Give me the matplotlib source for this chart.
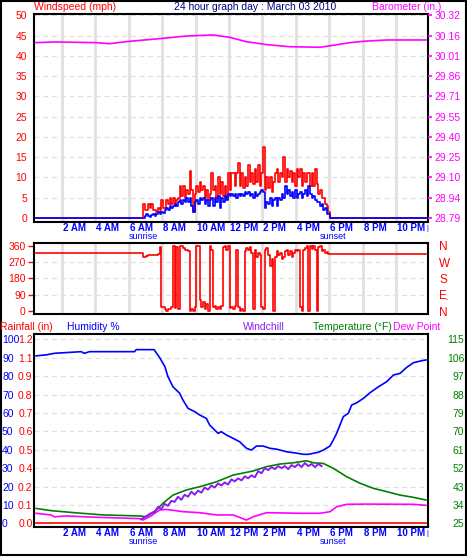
import matplotlib
matplotlib.use("Agg")
import matplotlib.pyplot as plt
import matplotlib.transforms as mtrans
from matplotlib.patches import Rectangle
import numpy as np

plt.rcParams['font.family'] = ['Liberation Sans', 'DejaVu Sans']

W, H = 467, 559

# ---------------- data ----------------
title = "24 hour graph day : March 03 2010"
hour_labels = ["2 AM", "4 AM", "6 AM", "8 AM", "10 AM", "12 PM",
               "2 PM", "4 PM", "6 PM", "8 PM", "10 PM"]
sunrise_h, sunset_h = 6.4, 17.8
day_end = 23.35

# barometer (in.)
baro_hours = [0, 1.1, 3.6, 4.4, 5.6, 7.4, 9.0, 10.6, 11.6, 12.6, 13.8,
              15.2, 17.0, 17.8, 18.8, 19.6, 21.0, 23.35]
baro_in = [30.115, 30.12, 30.115, 30.107, 30.125, 30.145, 30.165, 30.173,
           30.155, 30.122, 30.10, 30.084, 30.08, 30.095, 30.115, 30.125,
           30.135, 30.135]

# wind (mph), samples between wind_start and wind_end
wind_start, wind_end = 6.4, 17.6
wind_gust = [3.5, 2, 2, 3.5, 2.5, 3.5, 2, 2, 1.5, 2.5, 2, 4.5, 2.5, 2.5, 4.5,
             3.5, 5, 3.5, 5, 3, 4.5, 5, 8, 5.5, 8, 5, 7, 6, 11.5, 7, 1.5, 6,
             8, 6.5, 9, 7, 8, 5, 7, 4.5, 6, 11, 7, 8, 5, 10, 6, 9, 5.5, 8, 5,
             11, 7, 11, 11, 8, 11, 13.5, 8, 11, 7.5, 10, 8, 13, 9, 11, 8.5, 12,
             9, 13, 8, 11, 17.5, 7, 10, 7.5, 10, 6.5, 9, 11, 12, 9, 11, 10, 15,
             9, 12, 10, 11.5, 9, 11, 8, 12, 10, 12, 8, 11, 9, 11, 11, 8, 11, 8,
             12, 8.5, 6, 7, 5, 5, 3.5, 3, 1.5, 0]
wind_avg = [0, 0.5, 1, 0.5, 0.3, 0.8, 1, 0.5, 1, 1.5, 1, 1.5, 1.2, 2, 2.5, 2,
            3, 2.5, 3, 3.5, 3, 4, 4.5, 3.5, 4.5, 4, 5, 4, 5, 3, 1.5, 4, 4.5,
            3.5, 5, 4.5, 5, 3.5, 4.5, 3, 4.5, 5, 3, 5, 4, 5.5, 2.5, 5, 4, 5.5,
            4.5, 6, 5.5, 6, 5.5, 6, 5, 6, 5.5, 6, 5.5, 6.5, 6, 6.5, 5.5, 6, 5,
            6.5, 5.5, 6, 6.5, 7, 6.5, 2.5, 4, 3.5, 5, 3, 4.5, 5, 3, 5, 4.5, 6,
            5, 8, 6, 7, 5.5, 6.5, 5, 7, 5, 6, 6.5, 5, 6, 7, 5.5, 8, 6, 5, 5.5,
            4.5, 4, 4, 3, 3.5, 2, 2.5, 1, 1, 0]

# wind direction (deg)
dir_calm_before, dir_calm_after = 318, 315
wind_dir = [300, 300, 305, 310, 310, 310, 312, 312, 312, 315, 355, 20, 20, 10,
            0, 10, 10, 20, 360, 15, 355, 10, 360, 360, 350, 340, 340, 330, 0,
            10, 0, 20, 360, 360, 60, 20, 50, 10, 40, 0, 360, 340, 20, 30, 10,
            20, 10, 30, 355, 360, 340, 360, 15, 20, 10, 30, 340, 20, 0, 10, 0,
            330, 350, 340, 355, 320, 10, 340, 300, 320, 310, 20, 10, 340, 350,
            310, 250, 290, 0, 300, 330, 310, 320, 290, 300, 330, 340, 310, 330,
            300, 320, 340, 330, 340, 20, 0, 340, 350, 360, 0, 360, 345, 360,
            340, 0, 355, 360, 330, 340, 320, 325, 315, 315]

# humidity (%)
hum_hours = [0, 0.64, 1.1, 2.7, 2.9, 3.2, 5.9, 6.0, 7.07, 7.43, 7.72, 7.9,
             8.2, 8.6, 8.8, 9.1, 9.5, 9.8, 10.2, 10.4, 10.7, 10.9, 11.1, 11.4,
             11.8, 12.2, 12.4, 12.6, 12.9, 13.2, 13.6, 14.0, 14.4, 15.0, 15.7,
             16.0, 16.3, 16.9, 17.2, 17.6, 17.8, 18.0, 18.2, 18.4, 18.7, 18.9,
             19.2, 19.6, 20.0, 20.5, 21.0, 21.4, 21.8, 22.2, 22.6, 23.1, 23.35]
hum_pct = [91, 91.6, 92.4, 93.3, 92.4, 93.3, 93.3, 94.4, 94.4, 89.7, 85.1,
           79.7, 74.2, 70.7, 67, 62.5, 60.7, 58.9, 57, 53.4, 50.7, 48.9, 49.8,
           48, 46.2, 44.3, 42.5, 40.8, 39.8, 42, 42, 40.8, 40.3, 38.9, 38, 37.5,
           37.5, 38.6, 39.8, 42, 45.3, 48.9, 53.4, 58, 59.8, 64.3, 65.5, 67.9,
           71, 74.2, 77, 80.6, 81.5, 84.8, 87.3, 88.4, 88.8]

# temperature (F)
temp_hours = [0, 0.9, 2.3, 4.0, 6.2, 6.6, 7.2, 7.6, 8.2, 9.0, 9.8, 10.8,
              11.8, 13.0, 13.8, 14.6, 15.4, 16.2, 16.6, 17.2, 17.8, 18.6, 19.4,
              20.2, 21.0, 21.8, 22.6, 23.35]
temp_f = [32.3, 31.2, 30.2, 29.1, 28.6, 28.2, 31.5, 34.8, 38.8, 41.3, 42.9,
          45.3, 48.6, 50.6, 52.7, 54, 54.6, 55.6, 54.6, 54.3, 51.9, 47.8, 44.6,
          42.1, 40.5, 38.8, 37.7, 36.4]

# dew point (F)
dew_hours = [0, 0.9, 1.1, 1.8, 3.8, 6.2, 6.4, 6.8, 7.4, 7.8, 8.8, 9.8, 10.8,
             11.8, 12.6, 13.0, 13.8, 15.8, 17.0, 17.6, 18.0, 18.6, 19.8, 22.6,
             23.35]
dew_f = [29.9, 29.1, 28.2, 28.6, 27.9, 27.3, 26.6, 28.2, 31.5, 31.8, 30.7,
         30.2, 29.1, 29.1, 26.6, 28.2, 30.2, 29.9, 29.9, 30.7, 33.1, 34.3,
         34.4, 34.3, 33.8]

# windchill (F)
chill_hours = [6.3, 6.5, 6.7, 6.9, 7.1, 7.3, 7.5, 7.7, 7.9, 8.1, 8.3, 8.5, 8.7,
               8.9, 9.1, 9.3, 9.5, 9.7, 9.9, 10.1, 10.3, 10.5, 10.7, 10.9,
               11.1, 11.3, 11.5, 11.7, 11.9, 12.1, 12.3, 12.5, 12.7, 12.9,
               13.1, 13.3, 13.5, 13.7, 13.9, 14.1, 14.3, 14.5, 14.7, 14.9,
               15.1, 15.3, 15.5, 15.7, 15.9, 16.1, 16.3, 16.5, 16.7, 16.9, 17.1]
chill_f = [27, 28, 29, 30, 30.5, 33, 32, 34.5, 33.5, 36, 35.5, 38, 36.5, 39,
           38, 40.5, 39, 41, 40, 42.5, 41.5, 43.5, 42.5, 44.5, 43.5, 45, 44,
           46.5, 45.5, 47, 46, 48, 47, 48.5, 47.5, 50.5, 49.5, 52, 51, 52.5,
           51.5, 53, 52, 53, 51.5, 53.5, 52.5, 54, 52.5, 54.5, 53, 54, 52.5,
           54, 53]

# rainfall (in)
rain_hours = [0, 23.35]
rain_in = [0.0, 0.0]

wind_ticks = [0, 5, 10, 15, 20, 25, 30, 35, 40, 45, 50]
baro_ticks = ["28.79", "28.94", "29.10", "29.25", "29.40", "29.55", "29.71",
              "29.86", "30.01", "30.16", "30.32"]
dir_ticks = [0, 90, 180, 270, 360]
dir_letters = ["N", "E", "S", "W", "N"]
hum_ticks = [0, 10, 20, 30, 40, 50, 60, 70, 80, 90, 100]
rain_labels = ["0.0", "0.1", "0.2", "0.4", "0.5", "0.6", "0.7", "0.8", "0.9",
               "1.1", "1.2"]
temp_ticks = [25, 34, 43, 52, 61, 70, 79, 88, 97, 106, 115]

# ---------------- styling ----------------
RED, BLUE, MAG, GREEN, PURP, NAVY = "#ff0000", "#0000ff", "#ff00ff", "#008000", "#8a1cf0", "#000080"
GRID = "#e0e0e0"
FS = 7.5
PXH = 16.7  # pixels per hour
grid_hours = [1.56 + 2 * k for k in range(11)]
x_lim = (-2 / PXH, day_end + 2 / PXH)


def box(l, t, r, b):
    return [l / W, 1 - b / H, (r - l) / W, (b - t) / H]


def fy(py):
    return 1 - py / H


def frame(ax):
    for s in ax.spines.values():
        s.set_color("black")
        s.set_linewidth(1.5)
    ax.set_xlim(*x_lim)
    ax.set_xticks([])
    ax.set_facecolor("white")


def vgrid(ax):
    for g in grid_hours:
        ax.axvline(g, color=GRID, lw=2.0, zorder=0)


def hgrid(ax, vals):
    for v in vals:
        ax.axhline(v, color=GRID, lw=0.9, ls=(0, (4, 3)), zorder=0)


def hour_axis(ax, label_py, sun_py):
    tr = mtrans.blended_transform_factory(ax.transData, fig.transFigure)
    for g, lab in zip(grid_hours, hour_labels):
        fig.text(g + 0.05, fy(label_py), lab, transform=tr, ha="left", va="center",
                 color=BLUE, fontsize=7, fontweight="bold")
    fig.text(day_end + 0.05, fy(label_py), "|", transform=tr, ha="center",
             va="center", color=BLUE, fontsize=5)
    fig.text(sunrise_h, fy(sun_py), "sunrise", transform=tr, ha="center",
             va="center", color=BLUE, fontsize=6.5)
    fig.text(sunset_h, fy(sun_py), "sunset", transform=tr, ha="center",
             va="center", color=BLUE, fontsize=6.5)


fig = plt.figure(figsize=(W / 100, H / 100), dpi=100)
fig.patch.set_facecolor("white")

# ---------- panel 1: wind + barometer ----------
ax1 = fig.add_axes(box(34, 14, 428, 222))
frame(ax1)
vgrid(ax1)
hgrid(ax1, wind_ticks[1:])
ax1.set_ylim(-0.99, 50.37)
ax1.set_yticks(wind_ticks)
ax1.tick_params(axis="y", length=0, pad=5, labelsize=FS, labelcolor=RED)

wind_t = np.linspace(wind_start, wind_end, len(wind_gust))
wt = np.concatenate([[0.0], wind_t, [day_end]])
ax1.plot(wt, [0] + wind_gust + [0], color=RED, lw=1.2, drawstyle="steps-post", zorder=3)
ax1.plot(wt, [0] + wind_avg + [0], color=BLUE, lw=1.2, drawstyle="steps-post", zorder=4)

ax1b = ax1.twinx()
b0, bstep = 28.79, 1.53 / 50
ax1b.set_ylim(b0 - 0.99 * bstep, b0 + 50.37 * bstep)
ax1b.set_yticks([b0 + w * bstep for w in wind_ticks])
ax1b.set_yticklabels(baro_ticks)
ax1b.tick_params(axis="y", length=3, width=1.2, color=MAG, pad=1.5,
                 labelsize=FS, labelcolor=MAG)
for s in ax1b.spines.values():
    s.set_visible(False)
ax1b.plot(baro_hours, baro_in, color=MAG, lw=1.2, zorder=3)
ax1b.set_xlim(*x_lim)

fig.text(34 / W, fy(7), "Windspeed (mph)", color=RED, fontsize=FS, va="center")
fig.text(255 / W, fy(7), title, color=NAVY, fontsize=FS, va="center", ha="center")
fig.text(372 / W, fy(7), "Barometer (in.)", color=MAG, fontsize=FS, va="center")
hour_axis(ax1, 228, 236.5)

# ---------- panel 2: wind direction ----------
ax2 = fig.add_axes(box(34, 243, 428, 314))
frame(ax2)
vgrid(ax2)
hgrid(ax2, [90, 180, 270])
ax2.set_ylim(-16.5, 376)
ax2.set_yticks(dir_ticks)
ax2.tick_params(axis="y", length=4, width=1, color=RED, pad=2, labelsize=FS,
                labelcolor=RED)
dt = np.concatenate([[0.0], wind_t, [day_end]])
ax2.plot(dt, [dir_calm_before] + wind_dir + [dir_calm_after], color=RED, lw=1.2,
         drawstyle="steps-post", zorder=3)
ax2b = ax2.twinx()
ax2b.set_ylim(-16.5, 376)
ax2b.set_yticks(dir_ticks)
ax2b.set_yticklabels(dir_letters)
ax2b.tick_params(axis="y", length=0, pad=8, labelsize=8.5, labelcolor=RED)
for s in ax2b.spines.values():
    s.set_visible(False)
fig.text(447 / W, fy(300), "-", color=RED, fontsize=5, ha="center", va="center")

# ---------- panel 3: humidity / temperature / rain ----------
ax3 = fig.add_axes(box(34, 334, 428, 527))
frame(ax3)
hgrid(ax3, hum_ticks[1:])
ax3.set_ylim(-2.0, 102.9)
ax3.set_yticks(hum_ticks)
ax3.tick_params(axis="y", length=0, pad=23, labelsize=FS, labelcolor=BLUE)
for lab in ax3.get_yticklabels():
    lab.set_horizontalalignment("left")
ax3.plot(hum_hours, hum_pct, color=BLUE, lw=1.2, zorder=5)

ax3r = ax3.twinx()
ax3r.set_ylim(-0.024, 1.2348)
ax3r.yaxis.tick_left()
ax3r.set_yticks([h * 0.012 for h in hum_ticks])
ax3r.set_yticklabels(rain_labels)
ax3r.tick_params(axis="y", length=0, pad=1, labelsize=FS, labelcolor=RED)
for s in ax3r.spines.values():
    s.set_visible(False)
ax3r.plot(rain_hours, rain_in, color=RED, lw=1.2, zorder=3)
ax3r.set_xlim(*x_lim)

ax3t = ax3.twinx()
ax3t.set_ylim(25 + 0.9 * -2.0, 25 + 0.9 * 102.9)
ax3t.set_yticks(temp_ticks)
ax3t.tick_params(axis="y", length=0, pad=26, labelsize=FS, labelcolor=GREEN)
for lab in ax3t.get_yticklabels():
    lab.set_horizontalalignment("right")
for s in ax3t.spines.values():
    s.set_visible(False)
ax3t.plot(temp_hours, temp_f, color=GREEN, lw=1.2, zorder=3)
ax3t.plot(dew_hours, dew_f, color=MAG, lw=1.2, zorder=3)
ax3t.plot(chill_hours, chill_f, color=PURP, lw=1.4, zorder=4)
ax3t.set_xlim(*x_lim)

fig.text(0 / W, fy(327), "Rainfall (in)", color=RED, fontsize=FS, va="center")
fig.text(67 / W, fy(327), "Humidity %", color=BLUE, fontsize=FS, va="center")
fig.text(243 / W, fy(327), "Windchill", color=PURP, fontsize=FS, va="center")
fig.text(313 / W, fy(327), "Temperature (°F)", color=GREEN, fontsize=FS, va="center")
fig.text(393 / W, fy(327), "Dew Point", color=MAG, fontsize=FS, va="center")
hour_axis(ax3, 533.5, 542)

# outer border
fig.patches.append(Rectangle((0.5 / W, fy(554.5)), 465 / W, 554 / H,
                             transform=fig.transFigure, fill=False,
                             edgecolor="black", lw=1.5))

fig.savefig("out.png", dpi=100)
